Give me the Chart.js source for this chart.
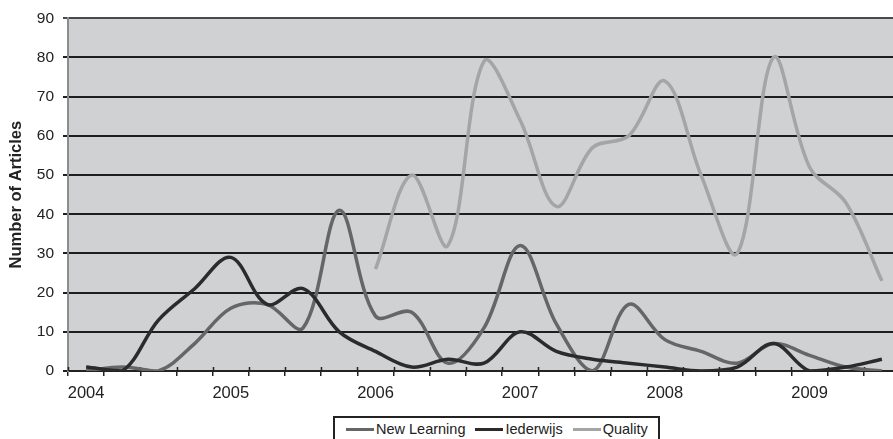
<!DOCTYPE html>
<html>
<head>
<meta charset="utf-8">
<script src="https://cdn.jsdelivr.net/npm/chart.js@4/dist/chart.umd.min.js"></script>
<style>
  html, body { margin: 0; padding: 0; background: #ffffff; overflow: hidden; }
  #wrap { position: relative; width: 900px; height: 439px; }
  #legend {
    position: absolute; left: 333px; top: 416px; height: 30px;
    border: 2px solid #222; box-sizing: border-box;
    display: flex; align-items: flex-start; padding: 3px 10px 0 11px;
    font-family: "Liberation Sans", Arial, sans-serif; font-size: 14.5px; color: #222;
    background: #fff; white-space: nowrap;
  }
  #legend .item { display: flex; align-items: center; margin-right: 10px; }
  #legend .item:last-child { margin-right: 0; }
  #legend .swatch { display: inline-block; width: 28px; height: 3px; margin-right: 2px; }
</style>
</head>
<body>
<div id="wrap">
  <canvas id="c"></canvas>
  <div id="legend"></div>
</div>
<script>
// Quarterly article counts, 2004 Q1 – 2009 Q3
const quarters = [
  '2004 Q1', '2004 Q2', '2004 Q3', '2004 Q4',
  '2005 Q1', '2005 Q2', '2005 Q3', '2005 Q4',
  '2006 Q1', '2006 Q2', '2006 Q3', '2006 Q4',
  '2007 Q1', '2007 Q2', '2007 Q3', '2007 Q4',
  '2008 Q1', '2008 Q2', '2008 Q3', '2008 Q4',
  '2009 Q1', '2009 Q2', '2009 Q3'
];
const newLearning = [0, 1, 0, 7, 16, 17, 11, 41, 14, 15, 2, 11, 32, 12, 0, 17, 8, 5, 2, 7, 4, 1, 0];
const iederwijs   = [1, 0, 13, 21, 29, 17, 21, 10, 5, 1, 3, 2, 10, 5, 3, 2, 1, 0, 1, 7, 0, 1, 3];
const quality     = [null, null, null, null, null, null, null, null,
                     26, 50, 32, 79, 64, 42, 57, 60, 74, 50, 30, 80, 52, 43, 23];
const yTicks = [0, 10, 20, 30, 40, 50, 60, 70, 80, 90];

const FONT = '"Liberation Sans", Arial, sans-serif';

// grey plot background
const plotBackground = {
  id: 'plotBackground',
  beforeDraw(chart) {
    const { ctx, chartArea: a } = chart;
    ctx.save();
    ctx.fillStyle = '#d0d1d3';
    ctx.fillRect(a.left, a.top, a.right - a.left, a.bottom - a.top);
    ctx.restore();
  }
};

// tick marks that cross the category axis (inner half)
const crossTicks = {
  id: 'crossTicks',
  beforeDatasetsDraw(chart) {
    const x = chart.scales.x;
    const { ctx } = chart;
    const y0 = chart.chartArea.bottom;
    ctx.save();
    ctx.strokeStyle = '#222';
    ctx.lineWidth = 1.5;
    ctx.beginPath();
    for (let i = 0; i <= quarters.length; i++) {
      const px = Math.round(x.getPixelForValue(i - 0.5)) + 0.5;
      ctx.moveTo(px, y0 - 4);
      ctx.lineTo(px, y0);
    }
    ctx.stroke();
    ctx.restore();
  }
};

const chart = new Chart(document.getElementById('c'), {
  type: 'line',
  data: {
    labels: quarters,
    datasets: [
      { label: 'New Learning', data: newLearning, borderColor: '#666666', backgroundColor: '#666666', order: 3 },
      { label: 'Iederwijs', data: iederwijs, borderColor: '#2b2b2b', backgroundColor: '#2b2b2b', order: 2 },
      { label: 'Quality', data: quality, borderColor: '#a5a5a5', backgroundColor: '#a5a5a5', order: 1 }
    ]
  },
  options: {
    responsive: true,
    maintainAspectRatio: false,
    animation: false,
    layout: { padding: { top: 17, left: 0, right: 0, bottom: 0 } },
    elements: {
      line: { borderWidth: 3.5, tension: 0.35, fill: false, capBezierPoints: true },
      point: { radius: 0, hoverRadius: 0 }
    },
    plugins: {
      legend: { display: false },
      tooltip: { enabled: false }
    },
    scales: {
      x: {
        type: 'category',
        offset: true,
        afterFit(s) { s.height = 68; },
        grid: { display: true, offset: true, drawOnChartArea: false, drawTicks: true,
                tickLength: 5, color: '#222', lineWidth: 1.5 },
        border: { display: true, color: '#222', width: 2 },
        ticks: {
          autoSkip: false, maxRotation: 0, padding: 8, color: '#222',
          font: { family: FONT, size: 16.5 },
          callback(value) {
            const lab = this.getLabelForValue(value);
            return lab.endsWith('Q1') ? lab.slice(0, 4) : '';
          }
        }
      },
      y: {
        min: yTicks[0], max: yTicks[yTicks.length - 1],
        afterFit(s) { s.width = 68; },
        afterBuildTicks(s) { s.ticks = yTicks.map(v => ({ value: v })); },
        grid: {
          color: ctx => (ctx.tick && ctx.tick.value === 90 ? '#4a4a4a' : '#1e1e1e'),
          lineWidth: 2, tickLength: 5, drawTicks: true
        },
        border: { display: true, color: '#8c8c8c', width: 2 },
        ticks: { padding: 9, color: '#222', font: { family: FONT, size: 15.5 } },
        title: {
          display: true, text: 'Number of Articles', color: '#222',
          font: { family: FONT, size: 16.5, weight: 'bold' },
          padding: { top: 7, bottom: 0 }
        }
      }
    }
  },
  plugins: [plotBackground, crossTicks]
});

// legend box under the plot
const legend = document.getElementById('legend');
chart.data.datasets.forEach(ds => {
  const item = document.createElement('span');
  item.className = 'item';
  const sw = document.createElement('span');
  sw.className = 'swatch';
  sw.style.background = ds.borderColor;
  const txt = document.createElement('span');
  txt.textContent = ds.label;
  item.appendChild(sw);
  item.appendChild(txt);
  legend.appendChild(item);
});
</script>
</body>
</html>
